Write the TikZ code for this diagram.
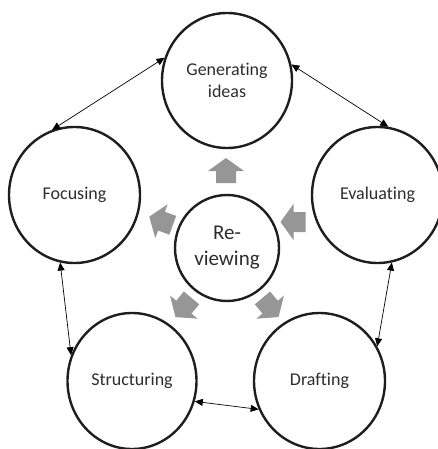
\documentclass[tikz,border=0pt]{standalone}
\usepackage{fontspec}
\setmainfont{Carlito}[Ligatures={NoCommon}]
\usetikzlibrary{shapes.geometric,arrows.meta}
\definecolor{ringcol}{RGB}{30,30,30}
\definecolor{txtcol}{RGB}{45,45,45}
\definecolor{arrowfill}{RGB}{150,150,150}
\newcommand\blockarr[3]{\fill[arrowfill,shift={(#1,#2)},rotate=#3] (0,-12.5) -- (18,0.5) -- (10,0.5) -- (10,12.5) -- (-10,12.5) -- (-10,0.5) -- (-18,0.5) -- cycle;}
\begin{document}
\begin{tikzpicture}[x=1pt,y=-1pt,
  ring/.style={ellipse, draw=ringcol, line width=2.4pt, inner sep=0pt, text=txtcol, align=center, font=\fontsize{18}{21.5}\selectfont},
  link/.style={{Triangle[length=8pt,width=7pt]}-{Triangle[length=8pt,width=7pt]}, line width=0.7pt, draw=black}]
\useasboundingbox (0,0) rectangle (438,449);
\node[ring, minimum width=130pt, minimum height=135pt] (gen) at (227,80.5) {Generating\\ideas};
\node[ring, minimum width=131pt, minimum height=136pt] (foc) at (74.5,195) {Focusing};
\node[ring, minimum width=131pt, minimum height=136pt] (eva) at (377.5,195) {Evaluating};
\node[ring, minimum width=129pt, minimum height=136pt] (str) at (132,381) {Structuring};
\node[ring, minimum width=131pt, minimum height=136pt] (dra) at (319.5,381) {Drafting};
\node[ring, minimum width=104pt, minimum height=106pt, font=\fontsize{21}{26}\selectfont] (rev) at (227,248) {Re-\\viewing};
\draw[link] (foc.109) -- (gen.160);
\draw[link] (gen.14) -- (eva.81);
\draw[link] (foc.258) -- (str.157);
\draw[link] (str.342) -- (dra.205);
\draw[link] (eva.282) -- (dra.31);
\blockarr{226}{170.5}{0}
\blockarr{161}{221}{70}
\blockarr{293}{222}{90}
\blockarr{183.5}{307.5}{140}
\blockarr{270.5}{307.5}{-140}
\end{tikzpicture}
\end{document}
